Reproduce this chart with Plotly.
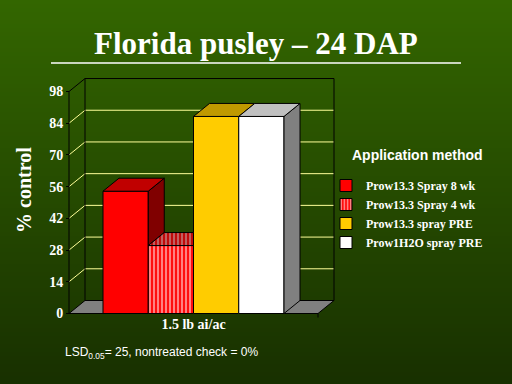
import plotly.graph_objects as go

# ---------------- data ----------------
series_names = ["Prow13.3 Spray 8 wk", "Prow13.3 Spray 4 wk", "Prow13.3 spray PRE", "Prow1H2O spray PRE"]
series_values = [54, 30, 87, 87]
category_label = "1.5 lb ai/ac"
y_tick_values = [0, 14, 28, 42, 56, 70, 84, 98]

# ---------------- styles ----------------
front_colors = ["#FF0000", "#FF0000", "#FFCC00", "#FFFFFF"]
top_colors = ["#C00000", "#C00000", "#C09900", "#C0C0C0"]
side_colors = ["#800000", "#800000", "#806600", "#808080"]
striped = [False, True, False, False]
GRID = "#FFFF99"
SERIF = "Liberation Serif"
SANS = "Liberation Sans"

# ---------------- geometry (pixels) ----------------
WIDTH, HEIGHT = 512, 384
PL, PR, PT, PB = 60, 340, 74, 318          # plot area
W, H = PR - PL, PB - PT
PX_X = 45.25                               # px per bar slot
PX_Y = 2.265                               # px per % unit
BAR0_LEFT_PX = 103                         # pixel of first bar's left edge
ZERO_PX = 313.5                            # pixel of y = 0 (front)
AXIS_PX = 69                               # front y-axis pixel
WALL_RIGHT_PX = 334
DEPTH_PX_X, DEPTH_PX_Y = 16, 13


def xv(px):
    return -0.5 + (px - BAR0_LEFT_PX) / PX_X


def yv(py):
    return (ZERO_PX - py) / PX_Y


def fx(px):
    return (px - PL) / W


def fy(py):
    return (PB - py) / H


DX = DEPTH_PX_X / PX_X
DY = DEPTH_PX_Y / PX_Y
X0 = xv(AXIS_PX)
XB = xv(WALL_RIGHT_PX)
XF = XB - DX
YTOP = y_tick_values[-1]

fig = go.Figure()

# front faces
for i, (name, v) in enumerate(zip(series_names, series_values)):
    marker = dict(color=front_colors[i], line=dict(color="black", width=1))
    if striped[i]:
        marker["pattern"] = dict(shape="|", fgcolor="#FFFFFF", bgcolor="#FF0000",
                                 size=4, solidity=0.55, fillmode="overlay")
    fig.add_trace(go.Bar(x=[i], y=[v], width=1, name=name, marker=marker,
                         hoverinfo="skip"))

# sides and tops
n = len(series_values)
for i, v in enumerate(series_values):
    xl, xr = i - 0.5, i + 0.5
    nxt = series_values[i + 1] if i + 1 < n else None
    # side
    if nxt is None or nxt < v:
        lo = 0 if nxt is None else nxt
        fig.add_trace(go.Scatter(
            x=[xr, xr + DX, xr + DX, xr, xr], y=[lo, lo + DY, v + DY, v, lo],
            mode="lines", fill="toself", fillcolor=side_colors[i],
            line=dict(color="black", width=1), showlegend=False, hoverinfo="skip"))
    # top
    if nxt is not None and nxt > v:
        tx = [xl, xr, xr, xl + DX, xl]
    else:
        tx = [xl, xr, xr + DX, xl + DX, xl]
    ty = [v, v, v + DY, v + DY, v]
    kw = {}
    if striped[i]:
        kw["fillpattern"] = dict(shape="|", fgcolor="#C0C0C0", bgcolor="#C00000",
                                 size=4, solidity=0.55, fillmode="overlay")
    fig.add_trace(go.Scatter(
        x=tx, y=ty, mode="lines", fill="toself", fillcolor=top_colors[i],
        line=dict(color="black", width=1), showlegend=False, hoverinfo="skip", **kw))

shapes = []
# background gradient
N = 96
top_rgb, bot_rgb = (51, 102, 0), (24, 48, 0)
for k in range(N):
    t = k / (N - 1)
    c = tuple(round(a + (b - a) * t) for a, b in zip(top_rgb, bot_rgb))
    shapes.append(dict(type="rect", xref="paper", yref="paper", layer="below",
                       x0=fx(0), x1=fx(WIDTH), y0=fy(k * HEIGHT / N),
                       y1=fy((k + 1) * HEIGHT / N + 0.5),
                       fillcolor="rgb(%d,%d,%d)" % c, line=dict(width=0)))

# floor
shapes.append(dict(type="path", xref="x", yref="y", layer="below",
                   path=f"M{X0},0 L{XF},0 L{XF + DX},{DY} L{X0 + DX},{DY} Z",
                   fillcolor="#808080", line=dict(color="black", width=1)))
# gridlines on back and left walls
for v in y_tick_values[1:-1]:
    shapes.append(dict(type="line", xref="x", yref="y", layer="below",
                       x0=X0 + DX, x1=XB, y0=v + DY, y1=v + DY, line=dict(color=GRID, width=1)))
    shapes.append(dict(type="line", xref="x", yref="y", layer="below",
                       x0=X0, x1=X0 + DX, y0=v, y1=v + DY, line=dict(color=GRID, width=1)))
# wall edges
for (a, b, c, d) in [(X0, YTOP, X0 + DX, YTOP + DY), (X0 + DX, YTOP + DY, XB, YTOP + DY),
                     (X0 + DX, DY, X0 + DX, YTOP + DY), (XB, DY, XB, YTOP + DY),
                     (X0, 0, X0, YTOP), (XF, 0, XF, -4 / PX_Y)]:
    shapes.append(dict(type="line", xref="x", yref="y", layer="below",
                       x0=a, y0=b, x1=c, y1=d, line=dict(color="black", width=1)))
# title underline
shapes.append(dict(type="line", xref="paper", yref="paper", x0=fx(51), x1=fx(461),
                   y0=fy(63), y1=fy(63), line=dict(color="white", width=1.5)))

annotations = [
    dict(text="Florida pusley – 24 DAP", x=fx(256), y=fy(43), xref="paper", yref="paper",
         showarrow=False, xanchor="center", yanchor="middle",
         font=dict(family=SERIF, size=31, color="white", weight="bold")),
    dict(text="% control", x=fx(24), y=fy(190), xref="paper", yref="paper", textangle=-90,
         showarrow=False, xanchor="center", yanchor="middle",
         font=dict(family=SERIF, size=20, color="white", weight="bold")),
    dict(text="Application method", x=fx(417), y=fy(155), xref="paper", yref="paper",
         showarrow=False, xanchor="center", yanchor="middle",
         font=dict(family=SANS, size=14, color="white", weight="bold")),
    dict(text="LSD<sub>0.05</sub>= 25, nontreated check = 0%", x=fx(63), y=fy(353),
         xref="paper", yref="paper", showarrow=False, xanchor="left", yanchor="middle",
         font=dict(family=SANS, size=12, color="white")),
]

fig.update_layout(
    width=WIDTH, height=HEIGHT,
    margin=dict(l=PL, r=WIDTH - PR, t=PT, b=HEIGHT - PB, pad=0),
    paper_bgcolor="rgb(24,48,0)", plot_bgcolor="rgba(0,0,0,0)",
    barmode="overlay", showlegend=True,
    xaxis=dict(range=[xv(PL), xv(PR)], tickvals=[(n - 1) / 2], ticktext=[category_label],
               showgrid=False, zeroline=False, showline=False, ticks="",
               anchor="free", position=fy(ZERO_PX),
               tickfont=dict(family=SERIF, size=14, color="white", weight="bold")),
    yaxis=dict(range=[yv(PB), yv(PT)], tickvals=y_tick_values,
               showgrid=False, zeroline=False, showline=False,
               ticks="outside", ticklen=3, tickcolor="black", tickwidth=1,
               anchor="free", position=fx(AXIS_PX),
               tickfont=dict(family=SERIF, size=14, color="white", weight="bold")),
    legend=dict(x=fx(326), y=fy(171), xanchor="left", yanchor="top",
                bgcolor="rgba(0,0,0,0)", borderwidth=0, tracegroupgap=0,
                font=dict(family=SERIF, size=12, color="white", weight="bold"),
                itemclick=False, itemdoubleclick=False),
    shapes=shapes, annotations=annotations,
)

fig.write_html("out.html")
